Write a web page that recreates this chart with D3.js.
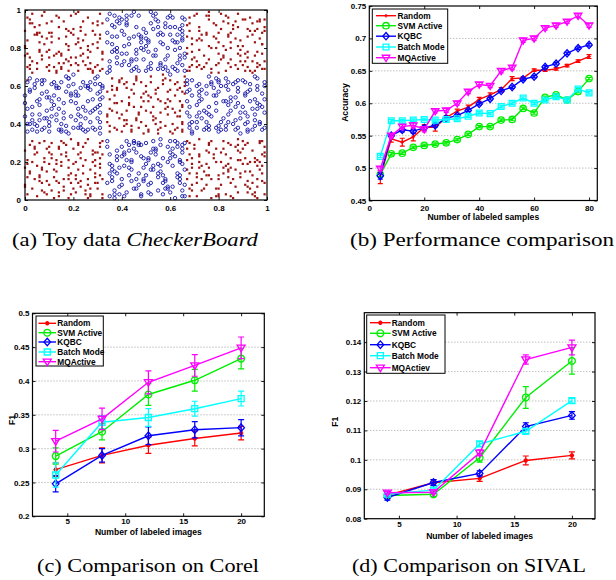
<!DOCTYPE html>
<html>
<head>
<meta charset="utf-8">
<script src="https://cdn.jsdelivr.net/npm/d3@7"></script>
<style>
body { margin: 0; background: #fff; }
svg text { font-family: "Liberation Sans", Arial, sans-serif; font-weight: bold; fill: #000; }
svg text.caption { font-family: "Liberation Serif", "Times New Roman", serif; font-weight: normal; }
</style>
</head>
<body>
<svg id="figure" width="616" height="580"></svg>
<script>
// ---- (a) checkerboard toy data, "xxyy" in hundredths ----
const redPoints = [
 // bottom-left
 "0103 0518 0927 1402 1811 2224 2706 3119 0215 0630 1008 1321 1729 2113 2601 3025 0411 0822 1216 1605 2019 2428 2912 3203 0026 0709 1124 1531 1914 2307 2820 3130 0306 0613 1019 1427 1801 2216 2530 2909 0121 0502 0915 1310 1723 2104 2418 2826 3211 0229 0717 1105 1520 1932 2310 2703 3122 0008 0424 0831 1212 1607 2027 2521 2914 3201 0119 0612 1028 1404 1817 2230 2611 3006 0331 0705 1122 1518 1909 2325 2702 3128 0214 0820 1130 1611 2006 2414 2824 3117 0007 0428 0910 1315 1725 2120 2505 2918 3224 0112 0525 0903 1428 1813 2209 2632 3009 0320 0716 1201 1524 1903 2322 2716 3113 0427 0804 1319 1630 2111 2503 2925 3231 0017 0610 1025 1409 1821 2229 2608 2921",
 // top-left
 "0271 0688 1079 1496 1868 2283 2675 3092 0184 0569 0993 1377 1790 2172 2587 2970 0398 0774 1186 1569 1997 2380 2867 3278 0076 0491 0882 1270 1694 2087 2473 2889 3168 0295 0678 1088 1472 1881 2299 2669 3083 0170 0587 0978 1367 1786 2175 2494 2882 3274 0089 0367 0797 1183 1576 1971 2391 2778 3187 0275 0692 1068 1485 1879 2271 2696 3080 0163 0487 0899 1276 1672 2090 2484 2868 3293 0081 0373 0786 1194 1577 1988 2376 2772 3198 0269 0683 1075 1491 1873 2285 2679 3071 0196 0572 0985 1368 1782 2198 2571 2987 3277 0080 0393 0776 1188 1570 1975 2389 2769 3185 0293 0679 1071 1478 1889 2268 2681 3094 0177 0588 0970 1397 1774 2182 2477 2893 3269",
 // bottom-right
 "6802 7217 7629 8108 8522 8914 9306 9730 6919 7305 7824 8231 8611 9027 9403 9818 6727 7112 7508 7920 8303 8716 9129 9522 9909 6814 7223 7731 8006 8419 8826 9210 9601 6908 7415 7902 8227 8517 9031 9413 9824 6721 7109 7526 8013 8430 8804 9219 9607 9928 6905 7318 7711 8120 8502 8925 9315 9731 6830 7224 7617 8003 8412 8829 9108 9520 9814 6711 7029 7406 7822 8214 8601 9019 9426 9903 6917 7232 7613 8125 8509 8921 9230 9611 9716 6824 7102 7519 7927 8318 8707 9122 9502 9925 6806 7220 7630 8011 8416 8832 9204 9621 9810 6716 7027 7513 7906 8324 8728 9115 9409 9831 6922 7311 7701 8217 8529 8912 9320 9504 9720 6731 7114 7625 8002 8415 8821 9207 9618 9923",
 // top-right
 "6870 7285 7697 8174 8588 8979 9368 9794 6982 7369 7893 8276 8690 9071 9487 9882 6777 7198 7572 7985 8368 8794 9173 9589 9969 6893 7271 7780 8067 8486 8898 9275 9670 6985 7476 7992 8281 8570 9095 9473 9888 6768 7184 7597 8077 8493 8869 9286 9678 9991 6974 7387 7769 8190 8583 8976 9396 9771 6889 7279 7695 8072 8487 8891 9168 9583 9877 6780 7097 7470 7886 8275 8692 9081 9467 9995 6971 7289 7681 8198 8574 8984 9290 9672 9785 6896 7173 7588 7980 8379 8771 9195 9576 9989 6868 7291 7674 8083 8496 8877 9270 9690 9882 6792 7075 7587 7971 8397 8785 9177 9493 9869 6978 7384 7767 8294 8580 8973 9389 9568 9795 6786 7170 7699 8088 8472 8881 9278 9694 9973",
 // centre
 "3536 3851 4242 4663 5039 5456 5848 6261 6540 3658 4045 4437 4854 5265 5641 6052 6447 3441 3963 4350 4746 5137 5559 5953 6338 6662 3755 4139 4561 4952 5344 5766 6135 6550 3548 3837 4259 4643 5057 5440 5864 6246 6656 3664 4052 4436 4849 5262 5638 6058 6444 3444 3859 4247 4665 5136 5553 5945 6362 6537 3751 4142 4556 4935 5349 5761 6140 6557 3539 3962 4354 4745 5060 5443 5851 6237 6665 3647 4036 4458 4841 5254 5646 6063 6452 3457 3846 4240 4664 5152 5535 5957 6344 6549 3738 4161 4549 4956 5342 5763 6148 6536 3660 3943 4351 4738 5047 5458 5839 6255 6660 3553 4064 4439 4862 5246 5652 6036 6459 3445 3858 4262 4642 5155 5537 5949 6358 6541"
];
const bluePoints = [
 // bottom-middle
 "3502 3917 4329 4708 5122 5514 5906 6330 6519 3705 4124 4531 4911 5327 5703 6118 6527 3612 4008 4420 4803 5216 5629 6022 6409 3514 3823 4231 4606 5019 5426 5810 6201 6608 3715 4102 4527 4917 5331 5713 6124 6421 3409 3826 4313 4730 5104 5519 5907 6328 6505 3618 4011 4421 4802 5225 5615 6031 6411 3524 3903 4317 4729 5108 5512 5920 6314 6630 3701 4125 4506 4922 5318 5709 6127 6502 3431 3814 4221 4611 5030 5424 5806 6223 6616 3610 4028 4416 4823 5209 5632 6004 6420 3519 3907 4326 4714 5121 5505 5928 6312 6525 3703 4118 4530 4910 5316 5722 6107 6529 3428 3821 4204 4625 5013 5427 5811 6231 6602 3616 4023 4410 4829 5203 5618 6025 6413",
 // middle-left
 "0136 0552 0943 1360 1739 2155 2547 2964 3141 0258 0645 1036 1453 1864 2238 2659 3049 0342 0761 1148 1537 1956 2344 2762 3135 0055 0440 0863 1250 1646 2061 2437 2853 3260 0148 0539 0957 1342 1765 2151 2536 2948 3157 0264 0650 1041 1459 1835 2248 2660 3043 0337 0756 1144 1562 1952 2340 2758 3146 0051 0461 0838 1255 1643 2066 2449 2838 3254 0140 0563 0947 1359 1736 2157 2543 2961 3138 0257 0642 1054 1437 1860 2245 2652 3065 0349 0737 1161 1540 1955 2338 2746 3153 0044 0459 0843 1262 1651 2038 2462 2847 3259 0162 0536 0954 1345 1757 2142 2560 2937 3150 0240 0653 1039 1448 1864 2255 2637 3056 0345 0763 1152 1536 1944 2359 2741 3161",
 // middle-right
 "6838 7252 7645 8063 8441 8857 9236 9660 9849 6955 7343 7762 8137 8552 8946 9358 9741 6746 7160 7538 7951 8364 8742 9155 9539 9962 6840 7257 7649 8036 8458 8863 9244 9651 6963 7437 7855 8243 8661 9049 9437 9856 6752 7141 7560 7947 8339 8754 9162 9545 9938 6858 7246 7637 8062 8450 8838 9257 9664 6935 7353 7744 8160 8547 8935 9352 9740 6763 7144 7556 7938 8352 8762 9140 9553 9946 6849 7261 7639 8057 8445 8859 9237 9648 6941 7358 7761 8141 8554 8943 9361 9750 6757 7138 7546 7964 8337 8749 9156 9542 9960 6844 7255 7665 8039 8462 8851 9241 9658 6936 7447 7859 8252 8640 9063 9448 9837 6761 7150 7541 7955 8360 8737 9146 9565 9953",
 // top-middle
 "3570 3886 4297 4674 5088 5479 5893 6269 6584 3692 4077 4468 4885 5299 5672 6091 6480 3483 3996 4371 4787 5178 5594 5968 6387 6675 3797 4181 4569 4990 5376 5787 6196 6571 3568 3880 4293 4677 5085 5498 5870 6283 6695 3678 4089 4474 4886 5269 5683 6097 6474 3488 3872 4295 4670 5183 5591 5976 6368 6589 3791 4173 4586 4979 5397 5769 6184 6592 3573 3993 4382 4768 5081 5495 5874 6291 6677 3686 4071 4497 4883 5272 5688 6066 6490 3467 3894 4277 4691 5170 5587 5980 6372 6596 3779 4187 4599 4974 5390 5782 6170 6585 3598 3875 4385 4797 5068 5476 5891 6279 6668 3682 4095 4473 4880 5293 5671 6087 6476 3495 3878 4292 4679 5184 5569 5996 6383 6587"
];
const unitTicks = [0, 0.2, 0.4, 0.6, 0.8, 1];

// ---- shared legend ----
const methodNames = ["Random", "SVM Active", "KQBC", "Batch Mode", "MQActive"];
const methodNamesSival = ["Random", "SVM Active", "KQBC", "Batch Mode", "MQActiev"];
const methodColours = ["#ff0000", "#00ee00", "#0000ff", "#00ffff", "#ff00ff"];
const methodMarkers = ["star", "circle", "diamond", "square", "triangle"];

// ---- (b) accuracy vs labeled samples ----
const samplesX = [4, 8, 12, 16, 20, 24, 28, 32, 36, 40, 44, 48, 52, 56, 60, 64, 68, 72, 76, 80];
const accRandom = [0.486, 0.545, 0.540, 0.548, 0.563, 0.563, 0.578, 0.588, 0.594, 0.606, 0.613, 0.621, 0.638, 0.639, 0.651, 0.651, 0.653, 0.658, 0.665, 0.672];
const accRandomErr = [0.010, 0.005, 0.006, 0.006, 0.004, 0.006, 0.003, 0.003, 0.003, 0.003, 0.003, 0.003, 0.003, 0.002, 0.002, 0.002, 0.002, 0.002, 0.002, 0.003];
const accSvm = [0.490, 0.522, 0.523, 0.532, 0.535, 0.537, 0.539, 0.544, 0.552, 0.564, 0.564, 0.574, 0.575, 0.592, 0.585, 0.609, 0.613, 0.605, 0.618, 0.638];
const accSvmErr = [0.003, 0.002, 0.002, 0.002, 0.002, 0.002, 0.002, 0.002, 0.002, 0.002, 0.002, 0.002, 0.002, 0.002, 0.002, 0.002, 0.002, 0.002, 0.002, 0.002];
const accKqbc = [0.488, 0.550, 0.559, 0.557, 0.562, 0.566, 0.577, 0.581, 0.589, 0.599, 0.607, 0.619, 0.625, 0.637, 0.641, 0.656, 0.661, 0.677, 0.685, 0.690];
const accKqbcErr = [0.005, 0.003, 0.003, 0.003, 0.003, 0.003, 0.002, 0.002, 0.002, 0.002, 0.002, 0.002, 0.002, 0.002, 0.002, 0.002, 0.002, 0.002, 0.002, 0.002];
const accBatch = [0.518, 0.573, 0.573, 0.574, 0.575, 0.574, 0.575, 0.576, 0.580, 0.585, 0.584, 0.595, 0.600, 0.608, 0.600, 0.605, 0.610, 0.605, 0.622, 0.616];
const accBatchErr = [0.002, 0.002, 0.002, 0.002, 0.002, 0.002, 0.002, 0.002, 0.002, 0.002, 0.002, 0.002, 0.002, 0.002, 0.002, 0.002, 0.002, 0.002, 0.002, 0.002];
const accMq = [0.499, 0.550, 0.564, 0.566, 0.560, 0.588, 0.589, 0.600, 0.618, 0.629, 0.627, 0.650, 0.655, 0.697, 0.700, 0.716, 0.720, 0.726, 0.735, 0.720];
const accMqErr = [0.003, 0.003, 0.003, 0.004, 0.004, 0.003, 0.003, 0.003, 0.003, 0.003, 0.003, 0.003, 0.003, 0.003, 0.003, 0.003, 0.003, 0.003, 0.003, 0.003];
const accTicksX = [0, 20, 40, 60, 80];
const accTicksY = [0.45, 0.5, 0.55, 0.6, 0.65, 0.7, 0.75];

// ---- (c) F1 on Corel, (d) F1 on SIVAL ----
const imagesX = [4, 8, 12, 16, 20];
const corelRandom = [0.269, 0.290, 0.305, 0.315, 0.323];
const corelRandomErr = [0.010, 0.011, 0.012, 0.011, 0.010];
const corelSvm = [0.289, 0.325, 0.380, 0.401, 0.433];
const corelSvmErr = [0.012, 0.012, 0.016, 0.016, 0.015];
const corelKqbc = [0.248, 0.290, 0.319, 0.328, 0.331];
const corelKqbcErr = [0.012, 0.010, 0.013, 0.012, 0.012];
const corelBatch = [0.261, 0.339, 0.346, 0.359, 0.374];
const corelBatchErr = [0.018, 0.010, 0.013, 0.011, 0.011];
const corelMq = [0.311, 0.344, 0.398, 0.423, 0.449];
const corelMqErr = [0.016, 0.016, 0.017, 0.016, 0.016];
const corelTicksY = [0.2, 0.25, 0.3, 0.35, 0.4, 0.45, 0.5];

const sivalRandom = [0.0880, 0.0922, 0.0937, 0.0998, 0.1015];
const sivalRandomErr = [0.0008, 0.0010, 0.0010, 0.0015, 0.0012];
const sivalSvm = [0.0879, 0.0883, 0.1007, 0.1212, 0.1336];
const sivalSvmErr = [0.0005, 0.0007, 0.0015, 0.0037, 0.0045];
const sivalKqbc = [0.0872, 0.0923, 0.0954, 0.1113, 0.1151];
const sivalKqbcErr = [0.0009, 0.0010, 0.0009, 0.0013, 0.0013];
const sivalBatch = [0.0884, 0.0897, 0.1054, 0.1097, 0.1201];
const sivalBatchErr = [0.0005, 0.0008, 0.0008, 0.0008, 0.0008];
const sivalMq = [0.0888, 0.0890, 0.1024, 0.1341, 0.1382];
const sivalMqErr = [0.0005, 0.0005, 0.0010, 0.0016, 0.0025];
const sivalTicksY = [0.08, 0.09, 0.1, 0.11, 0.12, 0.13, 0.14];
const imagesTicksX = [5, 10, 15, 20];

const svg = d3.select('#figure');

function markerPath(type, s) {
	switch (type) {
		case 'plus': return `M${-s},0H${s}M0,${-s}V${s}`;
		case 'star': return `M${-s},0H${s}M0,${-s}V${s}M${-s * 0.7},${-s * 0.7}L${s * 0.7},${s * 0.7}M${-s * 0.7},${s * 0.7}L${s * 0.7},${-s * 0.7}`;
		case 'circle': return `M${s},0A${s},${s} 0 1,1 ${-s},0A${s},${s} 0 1,1 ${s},0Z`;
		case 'diamond': return `M0,${-s * 1.15}L${s},0L0,${s * 1.15}L${-s},0Z`;
		case 'square': return `M${-s},${-s}H${s}V${s}H${-s}Z`;
		case 'triangle': return `M${-s},${-s * 0.65}H${s}L0,${s}Z`;
	}
}

// frame, ticks on all four sides, optional dotted grid
function drawAxes(g, x, y, o) {
	if (o.grid) {
		g.append('g')
			.selectAll('line')
			.data(o.yTicks.filter((t) => t > y.domain()[0] && t < y.domain()[1]))
			.join('line')
			.attr('x1', x.range()[0]).attr('x2', x.range()[1])
			.attr('y1', (d) => y(d)).attr('y2', (d) => y(d))
			.attr('stroke', '#8a8a8a')
			.attr('stroke-width', 0.8)
			.attr('stroke-dasharray', '1,2');
	}

	const bottom = y.range()[0], top = y.range()[1];
	const left = x.range()[0], right = x.range()[1];

	g.append('g').attr('transform', `translate(0,${bottom})`)
		.call(d3.axisBottom(x).tickValues(o.xTicks).tickSize(-3).tickPadding(o.xPad).tickFormat((d) => String(d)));
	g.append('g').attr('transform', `translate(0,${top})`)
		.call(d3.axisTop(x).tickValues(o.xTicks).tickSize(-3).tickFormat(''));
	g.append('g').attr('transform', `translate(${left},0)`)
		.call(d3.axisLeft(y).tickValues(o.yTicks).tickSize(-3).tickPadding(o.yPad).tickFormat((d) => String(d)));
	g.append('g').attr('transform', `translate(${right},0)`)
		.call(d3.axisRight(y).tickValues(o.yTicks).tickSize(-3).tickFormat(''));

	g.selectAll('.domain').remove();
	g.selectAll('.tick line').attr('stroke', '#000').attr('stroke-width', 0.9);
	g.selectAll('.tick text').attr('font-size', 8).attr('font-family', null);

	g.append('rect')
		.attr('x', left).attr('y', top)
		.attr('width', right - left).attr('height', bottom - top)
		.attr('fill', 'none').attr('stroke', '#000').attr('stroke-width', 1.2);
}

function drawLinePanel(o) {
	const g = svg.append('g');
	const x = d3.scaleLinear().domain(o.xDomain).range([o.left, o.right]);
	const y = d3.scaleLinear().domain(o.yDomain).range([o.bottom, o.top]);

	drawAxes(g, x, y, { grid: true, xTicks: o.xTicks, yTicks: o.yTicks, xPad: o.xPad, yPad: o.yPad });

	const line = d3.line().x((d) => x(d[0])).y((d) => y(d[1]));

	o.series.forEach((s, k) => {
		const pts = o.xValues.map((xv, i) => [xv, s.values[i], s.errors[i]]);
		const col = methodColours[k];
		const sg = g.append('g');

		sg.append('path')
			.attr('d', line(pts))
			.attr('fill', 'none')
			.attr('stroke', col)
			.attr('stroke-width', 1.4);

		// error bars
		sg.selectAll('.err')
			.data(pts)
			.join('path')
			.attr('d', (d) => {
				const xx = x(d[0]), y0 = y(d[1] - d[2]), y1 = y(d[1] + d[2]);
				return `M${xx},${y0}V${y1}M${xx - o.cap},${y0}H${xx + o.cap}M${xx - o.cap},${y1}H${xx + o.cap}`;
			})
			.attr('fill', 'none')
			.attr('stroke', col)
			.attr('stroke-width', 1.2);

		const mk = k === 0 ? o.randomMarker : methodMarkers[k];
		sg.selectAll('.mk')
			.data(pts)
			.join('path')
			.attr('transform', (d) => `translate(${x(d[0])},${y(d[1])})`)
			.attr('d', markerPath(mk, o.markerSize[k]))
			.attr('fill', 'none')
			.attr('stroke', col)
			.attr('stroke-width', 1.3);
	});

	// legend
	const lg = g.append('g');
	lg.append('rect')
		.attr('x', o.legend.x0).attr('y', o.legend.y0)
		.attr('width', o.legend.x1 - o.legend.x0).attr('height', o.legend.y1 - o.legend.y0)
		.attr('fill', '#fff').attr('stroke', '#000').attr('stroke-width', 1);
	o.names.forEach((name, k) => {
		const ly = o.legend.rows[k];
		const col = methodColours[k];
		const mk = k === 0 ? o.randomMarker : methodMarkers[k];
		lg.append('line')
			.attr('x1', o.legend.lx0).attr('x2', o.legend.lx1)
			.attr('y1', ly).attr('y2', ly)
			.attr('stroke', col).attr('stroke-width', 1.4);
		lg.append('path')
			.attr('transform', `translate(${(o.legend.lx0 + o.legend.lx1) / 2},${ly})`)
			.attr('d', markerPath(mk, o.markerSize[k]))
			.attr('fill', 'none').attr('stroke', col).attr('stroke-width', 1.3);
		lg.append('text')
			.attr('x', o.legend.tx).attr('y', ly)
			.attr('dy', '0.35em')
			.attr('font-size', 8.3)
			.text(name);
	});

	// axis labels
	g.append('text')
		.attr('x', (o.left + o.right) / 2).attr('y', o.xLabelY)
		.attr('text-anchor', 'middle').attr('dy', '0.35em')
		.attr('font-size', 8.6)
		.text(o.xLabel);
	g.append('text')
		.attr('transform', `translate(${o.yLabelX},${o.yLabelY}) rotate(-90)`)
		.attr('text-anchor', 'middle').attr('dy', '0.35em')
		.attr('font-size', 8.6)
		.text(o.yLabel);
}

// ---------- (a) ----------
{
	const g = svg.append('g');
	const x = d3.scaleLinear().domain([0, 1]).range([25, 267]);
	const y = d3.scaleLinear().domain([0, 1]).range([200, 10]);
	const parse = (list) => list.join(' ').trim().split(/\s+/).map((s) => [+s.slice(0, 2) / 100, +s.slice(2) / 100]);

	g.append('g').selectAll('rect')
		.data(parse(redPoints))
		.join('rect')
		.attr('x', (d) => x(d[0]) - 1.1).attr('y', (d) => y(d[1]) - 1.1)
		.attr('width', 2.2).attr('height', 2.2)
		.attr('fill', '#9c1414');

	g.append('g').selectAll('circle')
		.data(parse(bluePoints))
		.join('circle')
		.attr('cx', (d) => x(d[0])).attr('cy', (d) => y(d[1]))
		.attr('r', 1.7)
		.attr('fill', 'none')
		.attr('stroke', '#1414a8')
		.attr('stroke-width', 0.9);

	drawAxes(g, x, y, { grid: false, xTicks: unitTicks, yTicks: unitTicks, xPad: 5, yPad: 4 });
}

// ---------- (b) ----------
drawLinePanel({
	left: 369.3, right: 597.3, top: 6, bottom: 200.5,
	xDomain: [0, 83], yDomain: [0.45, 0.75],
	xTicks: accTicksX, yTicks: accTicksY, xPad: 4.5, yPad: 3,
	xValues: samplesX,
	series: [
		{ values: accRandom, errors: accRandomErr },
		{ values: accSvm, errors: accSvmErr },
		{ values: accKqbc, errors: accKqbcErr },
		{ values: accBatch, errors: accBatchErr },
		{ values: accMq, errors: accMqErr }
	],
	names: methodNames,
	randomMarker: 'plus',
	markerSize: [1.8, 3.2, 3.2, 2.9, 3.8],
	cap: 2.5,
	legend: { x0: 372.3, x1: 447.7, y0: 9, y1: 63.3, rows: [15.7, 25.7, 36.2, 47, 57.7], lx0: 376, lx1: 396, tx: 397.5 },
	xLabel: 'Number of labeled samples', xLabelY: 217.3,
	yLabel: 'Accuracy', yLabelX: 345, yLabelY: 102.5
});

// ---------- (c) ----------
drawLinePanel({
	left: 32.5, right: 264.3, top: 313.3, bottom: 516.3,
	xDomain: [2, 22], yDomain: [0.2, 0.5],
	xTicks: imagesTicksX, yTicks: corelTicksY, xPad: 2.5, yPad: 3,
	xValues: imagesX,
	series: [
		{ values: corelRandom, errors: corelRandomErr },
		{ values: corelSvm, errors: corelSvmErr },
		{ values: corelKqbc, errors: corelKqbcErr },
		{ values: corelBatch, errors: corelBatchErr },
		{ values: corelMq, errors: corelMqErr }
	],
	names: methodNames,
	randomMarker: 'star',
	markerSize: [2.2, 3.4, 3.3, 3, 4],
	cap: 3,
	legend: { x0: 36, x1: 103.3, y0: 316, y1: 366, rows: [323.3, 332.7, 342, 352, 361.7], lx0: 38.5, lx1: 56, tx: 57.3 },
	xLabel: 'Number of labeled images', xLabelY: 532.2,
	yLabel: 'F1', yLabelX: 11.7, yLabelY: 420
});

// ---------- (d) ----------
drawLinePanel({
	left: 364.3, right: 595, top: 312.7, bottom: 518.7,
	xDomain: [2, 22], yDomain: [0.08, 0.15],
	xTicks: imagesTicksX, yTicks: sivalTicksY, xPad: 3, yPad: 3,
	xValues: imagesX,
	series: [
		{ values: sivalRandom, errors: sivalRandomErr },
		{ values: sivalSvm, errors: sivalSvmErr },
		{ values: sivalKqbc, errors: sivalKqbcErr },
		{ values: sivalBatch, errors: sivalBatchErr },
		{ values: sivalMq, errors: sivalMqErr }
	],
	names: methodNamesSival,
	randomMarker: 'star',
	markerSize: [2.2, 3.4, 3.3, 3, 4],
	cap: 3,
	legend: { x0: 366.7, x1: 445, y0: 315, y1: 373.3, rows: [322.7, 333.3, 344.7, 355.7, 367.7], lx0: 370, lx1: 390.7, tx: 391.7 },
	xLabel: 'Number of labeled images', xLabelY: 535.5,
	yLabel: 'F1', yLabelX: 335, yLabelY: 421.7
});

// ---------- captions ----------
const captions = [
	{ x: 12, y: 246, len: 246, parts: [['(a) Toy data ', 'normal'], ['CheckerBoard', 'italic']] },
	{ x: 350, y: 246, len: 264, parts: [['(b) Performance comparison', 'normal']] },
	{ x: 37, y: 572, len: 222, parts: [['(c) Comparison on Corel', 'normal']] },
	{ x: 352, y: 572, len: 234, parts: [['(d) Comparison on SIVAL', 'normal']] }
];
captions.forEach((c) => {
	const t = svg.append('text')
		.attr('class', 'caption')
		.attr('x', c.x).attr('y', c.y)
		.attr('font-size', 19)
		.attr('textLength', c.len)
		.attr('lengthAdjust', 'spacingAndGlyphs');
	c.parts.forEach(([txt, style]) => t.append('tspan').attr('font-style', style).text(txt));
});
</script>
</body>
</html>
